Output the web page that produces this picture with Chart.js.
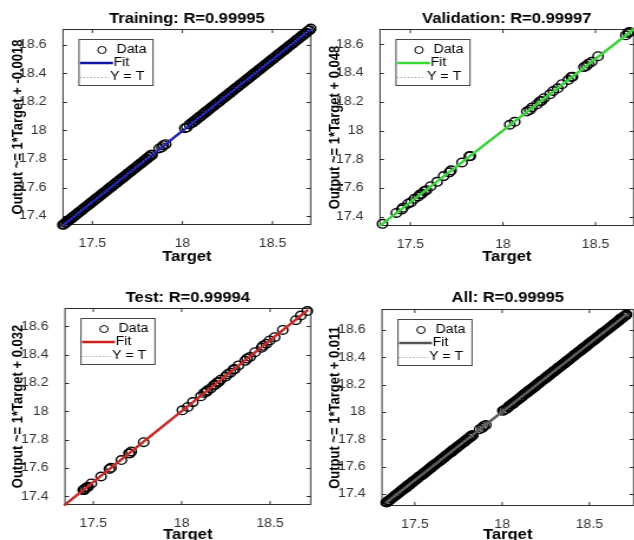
<!DOCTYPE html>
<html>
<head>
<meta charset="utf-8">
<script src="https://cdn.jsdelivr.net/npm/chart.js@4.4.1/dist/chart.umd.min.js"></script>
<style>
  html, body { margin: 0; padding: 0; background: #fff; }
  body { width: 634px; height: 540px; overflow: hidden; position: relative; }
  canvas { position: absolute; transform-origin: 0 0; }
</style>
</head>
<body>
<canvas id="trainChart"></canvas>
<canvas id="valChart"></canvas>
<canvas id="testChart"></canvas>
<canvas id="allChart"></canvas>
<script>
// ---- data ----
const xTicks = [17.5, 18, 18.5];
const yTicks = [17.4, 17.6, 17.8, 18, 18.2, 18.4, 18.6];
const legendLabels = ['Data', 'Fit', 'Y = T'];

const trainTarget = [
  17.336, 17.343, 17.348, 17.357, 17.362, 17.371, 17.377, 17.386, 17.391, 17.399,
  17.408, 17.413, 17.421, 17.429, 17.436, 17.444, 17.451, 17.458, 17.466, 17.473,
  17.481, 17.488, 17.496, 17.503, 17.511, 17.519, 17.526, 17.534, 17.541, 17.549,
  17.556, 17.564, 17.571, 17.579, 17.588, 17.594, 17.603, 17.609, 17.618, 17.624,
  17.633, 17.639, 17.648, 17.654, 17.663, 17.669, 17.678, 17.684, 17.693, 17.699,
  17.708, 17.714, 17.723, 17.729, 17.738, 17.744, 17.753, 17.759, 17.768, 17.774,
  17.783, 17.789, 17.798, 17.804, 17.812, 17.819, 17.826, 17.832,
  17.871, 17.886, 17.894, 17.907, 18.013, 18.024, 18.039,
  18.051, 18.057, 18.066, 18.072, 18.081, 18.087, 18.096, 18.102, 18.111, 18.117,
  18.126, 18.132, 18.141, 18.147, 18.156, 18.162, 18.171, 18.177, 18.186, 18.192,
  18.201, 18.207, 18.216, 18.222, 18.231, 18.237, 18.246, 18.252, 18.261, 18.267,
  18.276, 18.282, 18.291, 18.297, 18.306, 18.312, 18.321, 18.327, 18.336, 18.342,
  18.351, 18.357, 18.366, 18.372, 18.381, 18.387, 18.396, 18.402, 18.411, 18.417,
  18.426, 18.432, 18.441, 18.447, 18.456, 18.462, 18.471, 18.477, 18.486, 18.492,
  18.501, 18.507, 18.516, 18.522, 18.531, 18.537, 18.546, 18.552, 18.561, 18.567,
  18.576, 18.582, 18.591, 18.597, 18.606, 18.612, 18.621, 18.627, 18.636, 18.642,
  18.651, 18.657, 18.666, 18.672, 18.681, 18.689, 18.697, 18.706, 18.712
];
const trainOutput = [
  17.338, 17.340, 17.351, 17.354, 17.365, 17.369, 17.380, 17.383, 17.394, 17.397,
  17.410, 17.411, 17.424, 17.426, 17.439, 17.441, 17.454, 17.456, 17.469, 17.470,
  17.484, 17.485, 17.499, 17.500, 17.514, 17.516, 17.529, 17.531, 17.544, 17.546,
  17.559, 17.561, 17.574, 17.576, 17.591, 17.591, 17.606, 17.606, 17.621, 17.621,
  17.636, 17.636, 17.651, 17.651, 17.666, 17.666, 17.681, 17.681, 17.696, 17.696,
  17.711, 17.711, 17.726, 17.726, 17.741, 17.741, 17.756, 17.756, 17.771, 17.771,
  17.786, 17.786, 17.801, 17.801, 17.815, 17.816, 17.829, 17.829,
  17.874, 17.883, 17.897, 17.904, 18.016, 18.021, 18.042,
  18.054, 18.054, 18.069, 18.069, 18.084, 18.084, 18.099, 18.099, 18.114, 18.114,
  18.129, 18.129, 18.144, 18.144, 18.159, 18.159, 18.174, 18.174, 18.189, 18.189,
  18.204, 18.204, 18.219, 18.219, 18.234, 18.234, 18.249, 18.249, 18.264, 18.264,
  18.279, 18.279, 18.294, 18.294, 18.309, 18.309, 18.324, 18.324, 18.339, 18.339,
  18.354, 18.354, 18.369, 18.369, 18.384, 18.384, 18.399, 18.399, 18.414, 18.414,
  18.429, 18.429, 18.444, 18.444, 18.459, 18.459, 18.474, 18.474, 18.489, 18.489,
  18.504, 18.504, 18.519, 18.519, 18.534, 18.534, 18.549, 18.549, 18.564, 18.564,
  18.579, 18.579, 18.594, 18.594, 18.609, 18.609, 18.624, 18.624, 18.639, 18.639,
  18.654, 18.654, 18.669, 18.669, 18.684, 18.686, 18.700, 18.703, 18.715
];

const valTarget = [
  17.349, 17.424, 17.453, 17.46, 17.488, 17.504, 17.522, 17.543, 17.552, 17.562,
  17.576, 17.587, 17.61, 17.645, 17.68, 17.711, 17.72, 17.779, 17.818, 17.824,
  18.037, 18.064, 18.129, 18.145, 18.157, 18.185, 18.199, 18.208, 18.222, 18.254,
  18.272, 18.296, 18.319, 18.353, 18.369, 18.376, 18.438, 18.451, 18.462, 18.48,
  18.514, 18.664, 18.676, 18.683
];
const valOutput = [
  17.351, 17.427, 17.45, 17.463, 17.491, 17.502, 17.525, 17.541, 17.555, 17.56,
  17.579, 17.585, 17.613, 17.643, 17.683, 17.709, 17.723, 17.777, 17.821, 17.822,
  18.04, 18.061, 18.132, 18.143, 18.16, 18.183, 18.202, 18.206, 18.225, 18.252,
  18.275, 18.294, 18.322, 18.351, 18.372, 18.374, 18.441, 18.449, 18.465, 18.478,
  18.517, 18.662, 18.679, 18.686
];

const testTarget = [
  17.443, 17.448, 17.452, 17.461, 17.47, 17.489, 17.544, 17.591, 17.6, 17.659,
  17.702, 17.706, 17.715, 17.785, 18.004, 18.035, 18.063, 18.109, 18.128, 18.14,
  18.146, 18.165, 18.183, 18.19, 18.202, 18.21, 18.221, 18.248, 18.26, 18.276,
  18.294, 18.3, 18.322, 18.359, 18.37, 18.387, 18.415, 18.452, 18.46, 18.479,
  18.498, 18.526, 18.572, 18.646, 18.674, 18.711
];
const testOutput = [
  17.446, 17.445, 17.455, 17.463, 17.468, 17.492, 17.541, 17.594, 17.603, 17.657,
  17.705, 17.703, 17.718, 17.783, 18.008, 18.032, 18.066, 18.107, 18.131, 18.138,
  18.149, 18.163, 18.186, 18.188, 18.205, 18.208, 18.224, 18.246, 18.263, 18.274,
  18.297, 18.298, 18.325, 18.357, 18.373, 18.385, 18.418, 18.45, 18.463, 18.477,
  18.501, 18.524, 18.575, 18.644, 18.677, 18.709
];

const allTarget = trainTarget.concat(valTarget, testTarget);
const allOutput = trainOutput.concat(valOutput, testOutput);

// regression line end points
const fitX = [17.335, 18.715];
const trainFitY = [17.333, 18.713];
const valFitY = [17.337, 18.713];
const testFitY = [17.338, 18.717];
const allFitY = [17.336, 18.715];

// axis limits of each panel
const trainLim = [17.337, 18.712];
const valLim = [17.336, 18.706];
const testLim = [17.34, 18.73];
const allLim = [17.312, 18.753];

// ---- drawing ----
const FONT = 'Arial, "Liberation Sans", Helvetica, sans-serif';
const S = 1.18; // the source figure is stretched sideways

const matlabAxes = {
  id: 'matlabAxes',
  beforeDatasetsDraw(chart) {
    const {ctx, chartArea: a, scales: {x, y}} = chart;
    ctx.save();
    ctx.strokeStyle = '#2e2e2e';
    ctx.lineWidth = 1;
    ctx.strokeRect(a.left, a.top + 0.5, a.right - a.left, a.bottom - a.top - 1);
    ctx.beginPath();
    x.ticks.forEach(t => {
      const px = x.getPixelForValue(t.value);
      ctx.moveTo(px, a.bottom); ctx.lineTo(px, a.bottom - 4);
      ctx.moveTo(px, a.top); ctx.lineTo(px, a.top + 4);
    });
    y.ticks.forEach(t => {
      const py = Math.round(y.getPixelForValue(t.value)) + 0.5;
      ctx.moveTo(a.left, py); ctx.lineTo(a.left + 4 / S, py);
      ctx.moveTo(a.right, py); ctx.lineTo(a.right - 4 / S, py);
    });
    ctx.stroke();
    ctx.restore();
  },
  afterDraw(chart, args, opts) {
    const {ctx, chartArea: a} = chart;
    const bx = a.left + 16 / S, by = a.top + 10;
    const bw = 74 / S, bh = 46;
    ctx.save();
    ctx.fillStyle = '#fff';
    ctx.fillRect(bx, by, bw, bh);
    ctx.strokeStyle = '#444';
    ctx.lineWidth = 1;
    ctx.strokeRect(bx, by + 0.5, bw, bh);
    // Data
    ctx.beginPath();
    ctx.arc(bx + 23 / S, by + 11, 3.5, 0, Math.PI * 2);
    ctx.strokeStyle = '#000';
    ctx.stroke();
    // Fit
    ctx.beginPath();
    ctx.moveTo(bx + 1 / S, by + 24); ctx.lineTo(bx + 34 / S, by + 24);
    ctx.strokeStyle = opts.color; ctx.lineWidth = 2.5;
    ctx.stroke();
    // Y = T
    ctx.beginPath();
    ctx.setLineDash([1, 2]);
    ctx.moveTo(bx + 1 / S, by + 38.5); ctx.lineTo(bx + 30 / S, by + 38.5);
    ctx.strokeStyle = '#8a8a8a'; ctx.lineWidth = 1;
    ctx.stroke();
    ctx.setLineDash([]);
    ctx.fillStyle = '#000';
    ctx.font = '12px ' + FONT;
    ctx.textBaseline = 'middle';
    ctx.fillText(legendLabels[0], bx + 37.5 / S, by + 11);
    ctx.fillText(legendLabels[1], bx + 34.5 / S, by + 24);
    ctx.fillText(legendLabels[2], bx + 31 / S, by + 38);
    ctx.restore();
  }
};

function makePanel(id, pos, area, lim, title, yLabel, color, target, output, fitY) {
  const cv = document.getElementById(id);
  const w = Math.round(pos.w / S), h = pos.h;
  cv.width = w; cv.height = h;
  cv.style.left = pos.x + 'px';
  cv.style.top = pos.y + 'px';
  cv.style.transform = 'scaleX(' + S + ')';
  const aL = (area.l - pos.x) / S, aR = (area.r - pos.x) / S;
  const aT = area.t - pos.y, aB = area.b - pos.y;
  const titleTop = area.titleY - pos.y - 7;

  return new Chart(cv, {
    type: 'scatter',
    data: {
      datasets: [
        { label: legendLabels[2], data: fitX.map((v, i) => ({x: v, y: fitX[i]})),
          showLine: true, borderColor: '#8a8a8a', borderDash: [1, 2], borderWidth: 1,
          pointRadius: 0, clip: false },
        { label: legendLabels[1], data: fitX.map((v, i) => ({x: v, y: fitY[i]})),
          showLine: true, borderColor: color, borderWidth: 2.5, pointRadius: 0, clip: false },
        { label: legendLabels[0], data: target.map((v, i) => ({x: v, y: output[i]})),
          pointStyle: 'circle', pointRadius: 4.3, pointBorderWidth: 1.4,
          pointBorderColor: '#000', pointBackgroundColor: 'rgba(0,0,0,0)', clip: false }
      ]
    },
    options: {
      responsive: false,
      animation: false,
      events: [],
      layout: { padding: { left: 0, top: 0, right: w - aR, bottom: 0 } },
      plugins: {
        legend: { display: false },
        tooltip: { enabled: false },
        title: {
          display: true, text: title, fullSize: false, color: '#000',
          font: { family: FONT, size: 14, weight: 'bold', lineHeight: 1 },
          padding: { top: titleTop, bottom: aT - titleTop - 14 }
        },
        matlabAxes: { color: color }
      },
      scales: {
        x: {
          type: 'linear', min: lim[0], max: lim[1],
          grid: { display: false }, border: { display: false },
          afterBuildTicks: s => { s.ticks = xTicks.map(v => ({value: v})); },
          afterFit: s => { s.height = h - aB; },
          ticks: { padding: 3, color: '#333', font: { family: FONT, size: 12 }, callback: v => String(v) },
          title: { display: true, text: 'Target', color: '#000',
            font: { family: FONT, size: 14, weight: 'bold', lineHeight: 1 },
            padding: { top: 0, bottom: area.labB } }
        },
        y: {
          type: 'linear', min: lim[0], max: lim[1],
          grid: { display: false }, border: { display: false },
          afterBuildTicks: s => { s.ticks = yTicks.map(v => ({value: v})); },
          afterFit: s => { s.width = aL; },
          ticks: { padding: 6, color: '#333', font: { family: FONT, size: 12 }, callback: v => String(v) },
          title: { display: true, text: yLabel, color: '#000',
            font: { family: FONT, size: 13, weight: 'bold', lineHeight: 1 },
            padding: { top: 9, bottom: 0 } }
        }
      }
    },
    plugins: [matlabAxes]
  });
}

makePanel('trainChart', {x: 0, y: 0, w: 317, h: 270},
  {l: 63, t: 29, r: 312, b: 225, titleY: 19.5, labB: 6}, trainLim,
  'Training: R=0.99995', 'Output ~= 1*Target + -0.0018', '#1515a8',
  trainTarget, trainOutput, trainFitY);

makePanel('valChart', {x: 317, y: 0, w: 323, h: 270},
  {l: 380, t: 29, r: 636, b: 226, titleY: 19.5, labB: 6}, valLim,
  'Validation: R=0.99997', 'Output ~= 1*Target + 0.048', '#36d936',
  valTarget, valOutput, valFitY);

makePanel('testChart', {x: 0, y: 270, w: 317, h: 275},
  {l: 65, t: 308, r: 312, b: 505, titleY: 298.5, labB: 3}, testLim,
  'Test: R=0.99994', 'Output ~= 1*Target + 0.032', '#cc1f1a',
  testTarget, testOutput, testFitY);

makePanel('allChart', {x: 317, y: 270, w: 323, h: 275},
  {l: 382, t: 309, r: 638, b: 506, titleY: 298.5, labB: 3}, allLim,
  'All: R=0.99995', 'Output ~= 1*Target + 0.011', '#555555',
  allTarget, allOutput, allFitY);
</script>
</body>
</html>
